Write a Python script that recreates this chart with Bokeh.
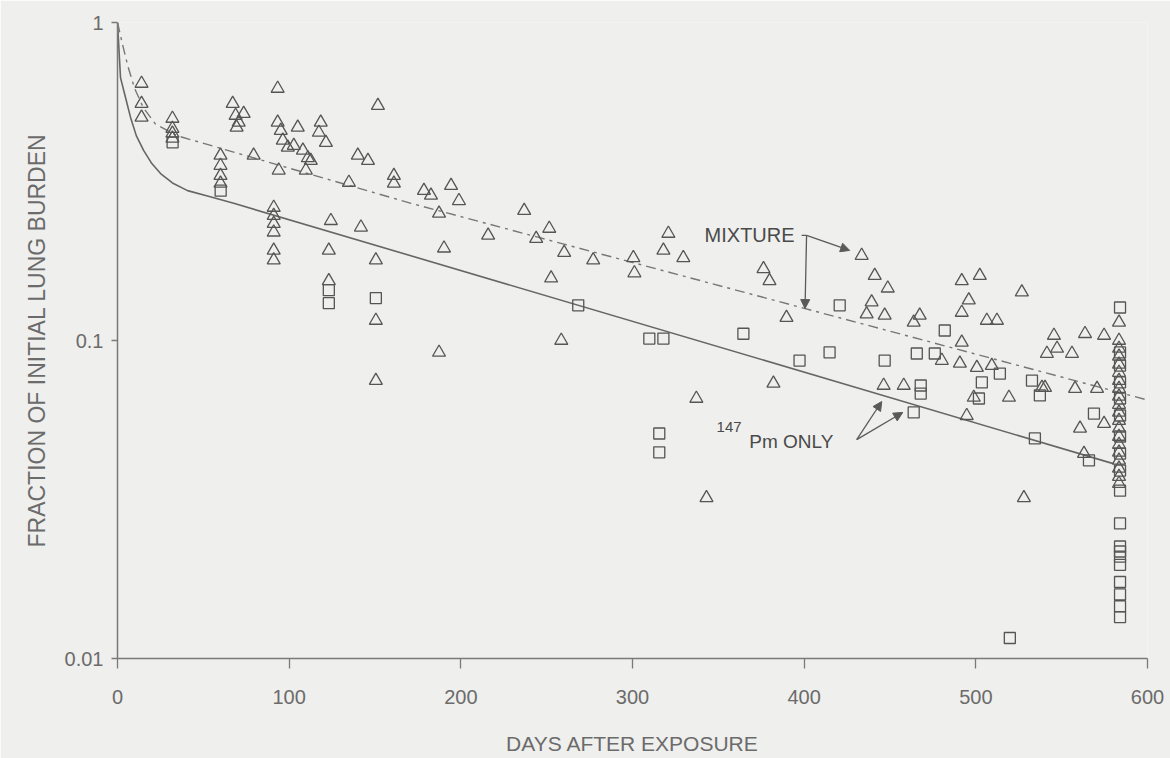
from bokeh.plotting import figure
from bokeh.models import (Range1d, FixedTicker, CustomJSTickFormatter, Label,
                          Arrow, NormalHead)
from bokeh.embed import file_html
from bokeh.resources import INLINE

# ---------------- data ----------------
# Triangles: MIXTURE
mix_days = [14, 14, 14,
            32, 32, 32, 32,
            60, 60, 60, 60,
            67.1, 68.8, 70.6, 73.5, 69.4, 79.3,
            91, 91, 91, 91, 91, 91,
            93.3, 93.3, 95.1, 96.3, 93.9,
            99.2, 102.7, 105, 108, 110.9, 112.6, 109.7,
            117.3, 118.4, 121.4,
            124.3, 123.1, 123.1, 134.8, 140, 145.9, 141.8,
            150.5, 150.5, 150.5, 151.7, 161, 161,
            178.5, 182.6, 194.3, 198.9, 187.3, 190.2, 187.3,
            215.9, 236.9, 243.9, 251.5, 252.6, 258.5, 260.2,
            277.1, 300.5, 301.1, 318.0, 320.9, 329.6, 337.2, 343.1,
            376.3, 379.8, 382.1, 389.7,
            433.5, 441.1, 448.7, 439.3, 436.4, 446.9, 463.8, 467.3,
            491.8, 502.3, 526.8, 495.9, 491.8, 506.4, 512.3,
            491.8, 480.2, 490.7, 500.6, 509.3,
            545.5, 563.6, 574.7, 541.4, 547.3, 556.0,
            446.3, 458.0, 498.8, 519.3, 538.5, 540.3, 557.8, 570.6,
            560.7, 574.7, 563.0, 528.0, 494.7,
            583.4, 583.4, 583.4, 583.4, 583.4, 583.4, 583.4, 583.4, 583.4, 583.4,
            583.4, 583.4, 583.4, 583.4, 583.4, 583.4, 583.4, 583.4, 583.4, 583.4]
mix_frac = [0.643, 0.556, 0.503,
            0.499, 0.464, 0.448, 0.432,
            0.382, 0.355, 0.33, 0.312,
            0.556, 0.51, 0.485, 0.517, 0.468, 0.382,
            0.262, 0.247, 0.233, 0.219, 0.192, 0.179,
            0.62, 0.485, 0.457, 0.426, 0.343,
            0.405, 0.41, 0.468, 0.396, 0.375, 0.368, 0.343,
            0.451, 0.485, 0.419,
            0.238, 0.192, 0.154, 0.314, 0.382, 0.368, 0.227,
            0.179, 0.1156, 0.0748, 0.548, 0.33, 0.312,
            0.296, 0.286, 0.307, 0.275, 0.251, 0.195, 0.0917,
            0.214, 0.256, 0.209, 0.225, 0.157, 0.100, 0.189,
            0.179, 0.182, 0.163, 0.192, 0.217, 0.182, 0.0657, 0.032,
            0.168, 0.154, 0.0733, 0.118,
            0.185, 0.160, 0.146, 0.132, 0.121, 0.120, 0.114, 0.120,
            0.154, 0.160, 0.142, 0.134, 0.1225, 0.1156, 0.1156,
            0.0986, 0.0865, 0.0847, 0.0822, 0.0834,
            0.1037, 0.105, 0.1037, 0.091, 0.0944, 0.091,
            0.0722, 0.0722, 0.0662, 0.0662, 0.0711, 0.0711, 0.0706, 0.0706,
            0.0529, 0.0548, 0.0441, 0.032, 0.058,
            0.114, 0.100, 0.0944, 0.0891, 0.0841, 0.0793, 0.0748, 0.0706, 0.0667, 0.0629,
            0.0594, 0.056, 0.0529, 0.0499, 0.0471, 0.0445, 0.042, 0.0396, 0.0373, 0.0355]

# Squares: 147Pm ONLY
pm_days = [32.1, 60.1, 123.1, 123.1, 150.5,
           268.4, 309.8, 318.0, 315.6, 315.6,
           364.6, 397.3, 414.8, 420.7,
           446.9, 465.6, 476.1, 481.9,
           503.5, 514.0, 467.9, 467.9, 463.8, 501.8,
           532.7, 537.3, 568.8, 534.4, 565.9,
           584, 519.8,
           584, 584, 584, 584, 584, 584, 584, 584, 584,
           584, 584, 584, 584, 584, 584, 584, 584, 584]
pm_frac = [0.42, 0.296, 0.144, 0.131, 0.136,
           0.129, 0.1014, 0.1014, 0.051, 0.0445,
           0.105, 0.0865, 0.0917, 0.129,
           0.0865, 0.091, 0.091, 0.1075,
           0.0738, 0.0787, 0.0722, 0.0681, 0.0594, 0.0657,
           0.0748, 0.0672, 0.0589, 0.0492, 0.042,
           0.127, 0.0116,
           0.0917, 0.0834, 0.0738, 0.0657, 0.0581, 0.0499, 0.0441, 0.039, 0.0337,
           0.0266, 0.0225, 0.0217, 0.0209, 0.0197, 0.0174, 0.0159, 0.0146, 0.0135]

# Fitted curves
pm_curve_days = [0, 1.75, 4, 7.6, 11, 15.2, 20, 25.1, 32, 40.8, 54, 67.7, 580]
pm_curve_frac = [1.0, 0.671, 0.6, 0.503, 0.44, 0.396, 0.36, 0.335, 0.313, 0.296, 0.283, 0.27, 0.041]
mix_curve_days = [0, 3, 6, 10, 15, 22, 35, 171, 600]
mix_curve_frac = [1.0, 0.85, 0.73, 0.62, 0.54, 0.48, 0.44, 0.27, 0.065]

x_ticks = [0, 100, 200, 300, 400, 500, 600]
y_ticks = [0.01, 0.1, 1]

BG = "#efefed"
INK = "#555555"
TXT = "#6b6b6b"
FONT = "Liberation Sans"

p = figure(width=1170, height=758, x_range=Range1d(0, 600), y_range=Range1d(0.01, 1),
           y_axis_type="log", output_backend="svg", toolbar_location=None,
           min_border_left=117, min_border_right=23, min_border_top=22, min_border_bottom=100,
           background_fill_color=BG, border_fill_color=BG, outline_line_color=None)
p.grid.visible = False

# curves
p.line(pm_curve_days, pm_curve_frac, line_color="#666666", line_width=1.6)
p.line(mix_curve_days, mix_curve_frac, line_color="#777777", line_width=1.4, line_dash="10 5 3 5")

# points
p.scatter(mix_days, mix_frac, marker="triangle", size=13, fill_color=None,
          line_color=INK, line_width=1.3)
p.scatter(pm_days, pm_frac, marker="square", size=11, fill_color=None,
          line_color=INK, line_width=1.3)

# axes
xa = p.xaxis[0]
xa.ticker = FixedTicker(ticks=x_ticks)
xa.axis_label = "DAYS AFTER EXPOSURE"
ya = p.yaxis[0]
ya.ticker = FixedTicker(ticks=y_ticks)
ya.formatter = CustomJSTickFormatter(code="return tick.toString();")
ya.axis_label = "FRACTION OF INITIAL LUNG BURDEN"
for ax in (xa, ya):
    ax.axis_line_color = "#7a7a7a"
    ax.axis_line_width = 1.5
    ax.major_tick_line_color = "#7a7a7a"
    ax.major_tick_line_width = 1.3
    ax.major_tick_in = 0
    ax.minor_tick_line_color = None
    ax.major_label_text_font = FONT
    ax.major_label_text_color = TXT
    ax.major_label_text_font_size = "20px"
    ax.axis_label_text_font = FONT
    ax.axis_label_text_color = TXT
    ax.axis_label_text_font_style = "normal"
xa.major_tick_out = 10
xa.major_label_standoff = 21
xa.axis_label_standoff = 25
xa.axis_label_text_font_size = "21px"
ya.major_tick_out = 6
ya.major_label_standoff = 8
ya.axis_label_standoff = 12
ya.axis_label_text_font_size = "23px"

# annotations
ann = "#4a4a4a"
p.add_layout(Label(x=342, y=0.214, text="MIXTURE", text_font=FONT, text_font_size="20px",
                   text_color=ann, text_baseline="middle", text_align="left"))
p.add_layout(Label(x=349, y=0.0533, text="147", text_font=FONT, text_font_size="15px",
                   text_color=ann, text_baseline="middle", text_align="left"))
p.add_layout(Label(x=368, y=0.0481, text="Pm ONLY", text_font=FONT, text_font_size="19px",
                   text_color=ann, text_baseline="middle", text_align="left"))

def arrow(x0, y0, x1, y1):
    p.add_layout(Arrow(x_start=x0, y_start=y0, x_end=x1, y_end=y1,
                       line_color="#5a5a5a", line_width=1.3,
                       end=NormalHead(size=9, fill_color="#5a5a5a", line_color="#5a5a5a")))

p.line([398.5, 401.4], [0.214, 0.214], line_color="#5a5a5a", line_width=1.3)
arrow(401.4, 0.214, 426.5, 0.192)
arrow(401.4, 0.214, 400.5, 0.126)
arrow(430.6, 0.0488, 445.2, 0.0643)
arrow(430.6, 0.0488, 457.4, 0.0594)

open("out.html", "w").write(file_html(p, INLINE))
